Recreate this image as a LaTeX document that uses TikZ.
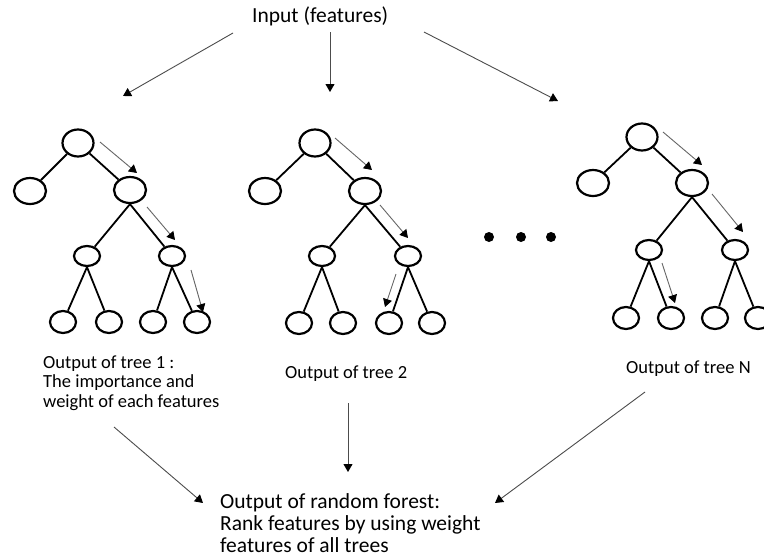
\documentclass[tikz,border=0pt]{standalone}
\usepackage{fontspec}
\setmainfont{Carlito}
\usetikzlibrary{shapes.geometric,arrows.meta}
\begin{document}
\begin{tikzpicture}[x=1pt,y=-1pt,
  nd/.style={draw=black,line width=2.2pt,ellipse,inner sep=0pt,fill=white},
  rootn/.style={nd,minimum width=31pt,minimum height=27pt},
  midn/.style={nd,minimum width=32pt,minimum height=26pt},
  lown/.style={nd,minimum width=26pt,minimum height=20pt},
  leafn/.style={nd,minimum width=26pt,minimum height=22pt},
  edge/.style={line width=1.8pt,black},
  path/.style={draw=black!60,line width=0.9pt,-{Triangle[length=8pt,width=9pt,color=black]}},
  flow/.style={draw=black!70,line width=0.9pt,-{Triangle[length=8pt,width=9pt,color=black]}},
  lbl/.style={inner sep=0pt,font=\fontsize{18.5}{19.5}\selectfont,align=left,anchor=base west},
  big/.style={inner sep=0pt,font=\fontsize{21.5}{22}\selectfont,align=left,anchor=base west},
  dot/.style={circle,fill=black,inner sep=0pt,minimum size=10pt}
]
\useasboundingbox (0,0) rectangle (764,560);
\fill[white] (0,0) rectangle (764,560);

% input
\node[big] (in) at (252,22) {Input (features)};
\coordinate (i1s) at (233,33); \coordinate (i1e) at (123,96);
\coordinate (i2s) at (330,32); \coordinate (i2e) at (330,92);
\coordinate (i3s) at (424,32); \coordinate (i3e) at (558,101);
\draw[flow] (i1s) -- (i1e);
\draw[flow] (i2s) -- (i2e);
\draw[flow] (i3s) -- (i3e);

% tree 1
\node[rootn] (r1) at (78,143) {};
\node[midn] (a1) at (30,191) {};
\node[midn] (b1) at (130,190) {};
\node[lown] (c1) at (87,256) {};
\node[lown] (d1) at (172,256) {};
\node[leafn] (e1) at (63,322) {};
\node[leafn] (f1) at (109,322) {};
\node[leafn] (g1) at (153,322) {};
\node[leafn] (h1) at (197,322) {};
\draw[edge] (r1) -- (a1); \draw[edge] (r1) -- (b1);
\draw[edge] (b1.south) -- (c1); \draw[edge] (b1.south) -- (d1);
\draw[edge] (c1.south) -- (e1); \draw[edge] (c1.south) -- (f1);
\draw[edge] (d1.south) -- (g1); \draw[edge] (d1.south) -- (h1);
\coordinate (p1a) at (100,142); \coordinate (p1b) at (137,173);
\coordinate (p1c) at (147,207); \coordinate (p1d) at (175,240);
\coordinate (p1e) at (191,270); \coordinate (p1f) at (203,312);
\draw[path] (p1a) -- (p1b); \draw[path] (p1c) -- (p1d); \draw[path] (p1e) -- (p1f);

% tree 2
\node[rootn] (r2) at (315,143) {};
\node[midn] (a2) at (265,191) {};
\node[midn] (b2) at (365,191) {};
\node[lown] (c2) at (322,256) {};
\node[lown] (d2) at (408,256) {};
\node[leafn] (e2) at (299,323) {};
\node[leafn] (f2) at (343,323) {};
\node[leafn] (g2) at (389,323) {};
\node[leafn] (h2) at (432,323) {};
\draw[edge] (r2) -- (a2); \draw[edge] (r2) -- (b2);
\draw[edge] (b2.south) -- (c2); \draw[edge] (b2.south) -- (d2);
\draw[edge] (c2.south) -- (e2); \draw[edge] (c2.south) -- (f2);
\draw[edge] (d2.south) -- (g2); \draw[edge] (d2.south) -- (h2);
\coordinate (p2a) at (335,138); \coordinate (p2b) at (372,170);
\coordinate (p2c) at (380,205); \coordinate (p2d) at (408,238);
\coordinate (p2e) at (396,274); \coordinate (p2f) at (385,307);
\draw[path] (p2a) -- (p2b); \draw[path] (p2c) -- (p2d); \draw[path] (p2e) -- (p2f);

% dots
\node[dot] (dt1) at (489,237) {};
\node[dot] (dt2) at (521,237) {};
\node[dot] (dt3) at (551,237) {};

% tree N
\node[rootn] (r3) at (642,137) {};
\node[midn] (a3) at (593,183) {};
\node[midn] (b3) at (692,183) {};
\node[lown] (c3) at (649,250) {};
\node[lown] (d3) at (735,250) {};
\node[leafn] (e3) at (626,318) {};
\node[leafn] (f3) at (671,318) {};
\node[leafn] (g3) at (715,318) {};
\node[leafn] (h3) at (758,318) {};
\draw[edge] (r3) -- (a3); \draw[edge] (r3) -- (b3);
\draw[edge] (b3.south) -- (c3); \draw[edge] (b3.south) -- (d3);
\draw[edge] (c3.south) -- (e3); \draw[edge] (c3.south) -- (f3);
\draw[edge] (d3.south) -- (g3); \draw[edge] (d3.south) -- (h3);
\coordinate (p3a) at (663,132); \coordinate (p3b) at (702,165);
\coordinate (p3c) at (712,194); \coordinate (p3d) at (743,232);
\coordinate (p3e) at (662,263); \coordinate (p3f) at (675,303);
\draw[path] (p3a) -- (p3b); \draw[path] (p3c) -- (p3d); \draw[path] (p3e) -- (p3f);

% outputs
\node[lbl] (o1) at (43,407) {Output of tree 1 :\\The importance and\\weight of each features};
\node[lbl] (o2) at (285,378) {Output of tree 2};
\node[lbl] (o3) at (626,373) {Output of tree N};
\node[big] (rf) at (220,552) {Output of random forest:\\Rank features by using weight\\features of all trees};

\coordinate (q1s) at (114,427); \coordinate (q1e) at (203,503);
\coordinate (q2s) at (348,403); \coordinate (q2e) at (348,472);
\coordinate (q3s) at (645,392); \coordinate (q3e) at (495,503);
\draw[flow] (q1s) -- (q1e);
\draw[flow] (q2s) -- (q2e);
\draw[flow] (q3s) -- (q3e);
\end{tikzpicture}
\end{document}
